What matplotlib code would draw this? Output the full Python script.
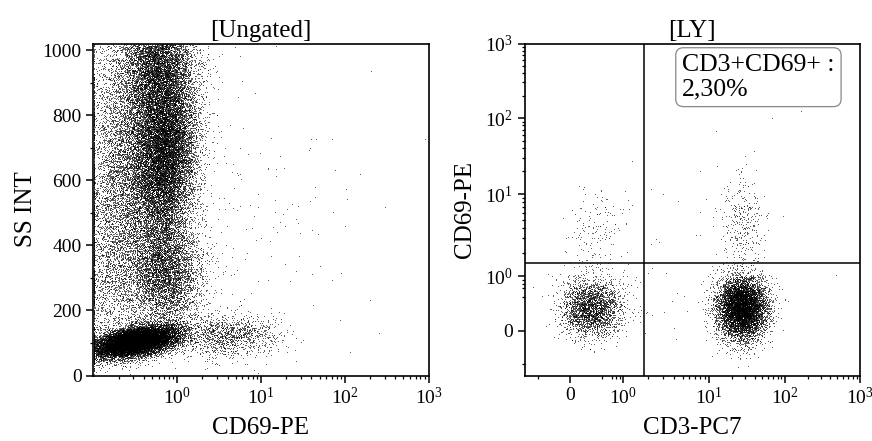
# Flow cytometry dot plots: ungated SS INT vs CD69-PE, and LY gate CD3-PC7 vs CD69-PE
import matplotlib
matplotlib.use("Agg")
import matplotlib.pyplot as plt
import numpy as np

plt.rcParams['font.family'] = ['Liberation Serif', 'DejaVu Serif']
plt.rcParams['mathtext.fontset'] = 'custom'
plt.rcParams['mathtext.rm'] = 'Liberation Serif'
plt.rcParams['mathtext.it'] = 'Liberation Serif:italic'

# ---- data (cluster descriptions) ----
# left panel: events, CD69 centre, CD69 spread (decades), SS centre, SS spread, corr
ungated_names = ["lymph", "gran", "gran_top", "gran_left", "mono", "low_left", "cd69_tail", "stray"]
ungated_n = [15000, 12000, 6000, 7000, 5000, 2500, 1300, 250]
ungated_x = [0.32, 0.72, 0.6, 0.3, 0.7, 0.17, 4.0, 5.0]
ungated_xsd = [0.25, 0.19, 0.22, 0.28, 0.22, 0.25, 0.3, 0.7]
ungated_y = [105, 680, 950, 700, 320, 350, 125, 450]
ungated_ysd = [24, 130, 90, 200, 90, 170, 35, 300]
ungated_r = [0.45, 0.1, 0.0, 0.0, 0.0, 0.0, 0.0, 0.0]

# right panel (LY gate): events, CD3 centre, spread, CD69 centre, spread (scale units)
ly_names = ["cd3neg", "cd3pos", "cd3pos_cd69pos", "cd3neg_cd69pos", "stray"]
ly_n = [2700, 7500, 320, 150, 60]
ly_x = [0.30, 27.0, 27.0, 0.35, 5.0]
ly_xsd = [0.2, 0.16, 0.14, 0.2, 0.9]
ly_y = [0.32, 0.32, 4.5, 3.5, 2.0]
ly_ysd = [0.19, 0.2, 0.32, 0.3, 0.9]

gate_cd3 = 1.8
gate_cd69 = 1.5
quad_label = "CD3+CD69+ :\n2,30%"

log_ticks = [1, 10, 100, 1000]
log_labels = [r'$\mathregular{10^{0}}$', r'$\mathregular{10^{1}}$',
              r'$\mathregular{10^{2}}$', r'$\mathregular{10^{3}}$']


# ---- logicle-like display scale for the right panel ----
def pwl(x, xp, fp):
    x = np.asarray(x, float)
    y = np.interp(x, xp, fp)
    lo_slope = (fp[1] - fp[0]) / (xp[1] - xp[0])
    hi_slope = (fp[-1] - fp[-2]) / (xp[-1] - xp[-2])
    y = np.where(x < xp[0], fp[0] + (x - xp[0]) * lo_slope, y)
    y = np.where(x > xp[-1], fp[-1] + (x - xp[-1]) * hi_slope, y)
    return y


def make_scale(anchor_vals, anchor_pos, c=0.5):
    s_anchor = np.arcsinh(np.asarray(anchor_vals, float) / c)
    pos = np.asarray(anchor_pos, float)

    def fwd(v):
        return pwl(np.arcsinh(np.asarray(v, float) / c), s_anchor, pos)

    def inv(p):
        return c * np.sinh(pwl(p, pos, s_anchor))
    return fwd, inv


anchors = [0, 1, 10, 100, 1000]
xfwd, xinv = make_scale(anchors, [0, 0.697, 1.829, 2.829, 3.816])
yfwd, yinv = make_scale(anchors, [0, 0.711, 1.786, 2.786, 3.763])


def dots(ax, xs, ys):
    ax.scatter(xs, ys, s=0.5, c='black', marker='o', linewidths=0,
               alpha=0.5, rasterized=True)


rng = np.random.default_rng(7)

fig = plt.figure(figsize=(8.72, 4.41), dpi=100)
ax1 = fig.add_axes([0.1072, 0.1485, 0.3842, 0.7528])
ax2 = fig.add_axes([0.6015, 0.1485, 0.3847, 0.7528])

# left panel
for i in range(len(ungated_names)):
    n = ungated_n[i]
    z1 = rng.standard_normal(n)
    z2 = ungated_r[i] * z1 + np.sqrt(1 - ungated_r[i] ** 2) * rng.standard_normal(n)
    xs = 10 ** (np.log10(ungated_x[i]) + ungated_xsd[i] * z1)
    ys = ungated_y[i] + ungated_ysd[i] * z2
    xs = np.clip(xs, 0.101, None)
    dots(ax1, xs, ys)

ax1.set_xscale('log')
ax1.set_xlim(0.1, 1000)
ax1.set_ylim(0, 1021)
ax1.set_xticks(log_ticks, log_labels)
ax1.set_yticks(np.arange(0, 1001, 200))
ax1.set_yticks(np.arange(100, 1001, 200), minor=True)
ax1.xaxis.set_minor_formatter(matplotlib.ticker.NullFormatter())
ax1.set_title("[Ungated]", fontsize=18, pad=5)
ax1.set_xlabel("CD69-PE", fontsize=18, labelpad=6)
ax1.set_ylabel("SS INT", fontsize=18, labelpad=4)

# right panel
for i in range(len(ly_names)):
    n = ly_n[i]
    px = xfwd(ly_x[i]) + ly_xsd[i] * rng.standard_normal(n)
    py = yfwd(ly_y[i]) + ly_ysd[i] * rng.standard_normal(n)
    dots(ax2, xinv(px), yinv(py))

ax2.set_xscale('function', functions=(xfwd, xinv))
ax2.set_yscale('function', functions=(yfwd, yinv))
ax2.set_xlim(float(xinv(-0.599)), 1000)
ax2.set_ylim(float(yinv(-0.589)), 1000)
ax2.set_xticks([0] + log_ticks, ['0'] + log_labels)
ax2.set_yticks([0] + log_ticks, ['0'] + log_labels)
minor = [-0.5, 0.5, 0.7, 0.8, 0.9] + [k * d for d in (1, 10, 100) for k in range(2, 10)]
ax2.set_xticks(minor, minor=True)
ax2.set_yticks(minor, minor=True)
ax2.xaxis.set_minor_formatter(matplotlib.ticker.NullFormatter())
ax2.yaxis.set_minor_formatter(matplotlib.ticker.NullFormatter())
ax2.axvline(gate_cd3, color='black', lw=1.1)
ax2.axhline(gate_cd69, color='black', lw=1.1)
ax2.text(0.47, 0.968, quad_label, transform=ax2.transAxes, fontsize=18.5,
         va='top', ha='left', linespacing=1.12,
         bbox=dict(boxstyle='round,pad=0.25,rounding_size=0.3', fc='white',
                   ec='#888888', lw=0.9))
ax2.set_title("[LY]", fontsize=18, pad=5)
ax2.set_xlabel("CD3-PC7", fontsize=18, labelpad=6)
ax2.set_ylabel("CD69-PE", fontsize=18, labelpad=6)

for ax in (ax1, ax2):
    for sp in ax.spines.values():
        sp.set_linewidth(1.2)
    ax.tick_params(which='major', direction='out', length=5, width=1.1, labelsize=14)
    ax.tick_params(which='minor', direction='out', length=2.5, width=0.9)
    ax.tick_params(axis='x', which='both', top=False)
    ax.tick_params(axis='y', which='both', right=False)

fig.savefig("out.png", dpi=100)
